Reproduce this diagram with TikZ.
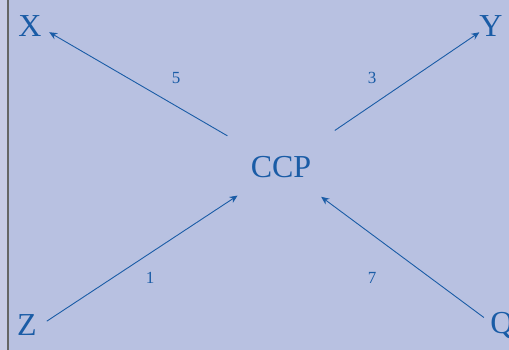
\documentclass[tikz,border=0pt]{standalone}
\usepackage{fontspec}
\setmainfont{Liberation Serif}
\usepackage{tikz}
\usetikzlibrary{arrows.meta,positioning,calc}
\definecolor{slidebg}{RGB}{184,193,225}
\definecolor{stripbg}{RGB}{200,204,230}
\definecolor{inkblue}{RGB}{26,92,166}

\tikzset{
  place/.style={text=inkblue, font=\fontsize{32}{32}\selectfont, inner sep=4pt},
  weight/.style={text=inkblue, font=\fontsize{17}{17}\selectfont, inner sep=0pt},
  flow/.style={draw=inkblue, line width=0.9pt, -{Stealth[length=8pt,width=7pt]}}
}

\begin{document}
\begin{tikzpicture}[x=1pt, y=-1pt]
            \useasboundingbox (0,0) rectangle (509,350);
            \fill[slidebg] (0,0) rectangle (509,350);
            \fill[stripbg] (0,0) rectangle (7,350);
            \draw[black!60, line width=1.5pt] (8,0) -- (8,350);

            \node[place] (ccp) at (281,167) {CCP};
            \node[place] (x) at (30,26) {X};
            \node[place] (y) at (491,26) {Y};
            \node[place] (z) at (27,325) {Z};
            \node[place] (q) at (502,325) {Q};

            \draw[flow, shorten <=62pt, shorten >=4pt] (ccp.center) -- (x.345);
            \draw[flow, shorten <=65pt, shorten >=-5pt] (ccp.center) -- (y.210);
            \draw[flow, shorten <=7pt, shorten >=52pt] (z.east) -- (ccp.center);
            \draw[flow, shorten <=3pt, shorten >=50pt] (q.160) -- (ccp.center);

            \node[weight] (w5) at (176,78) {5};
            \node[weight] (w3) at (372,78) {3};
            \node[weight] (w1) at (150,278) {1};
            \node[weight] (w7) at (372,278) {7};
        \end{tikzpicture}
\end{document}
